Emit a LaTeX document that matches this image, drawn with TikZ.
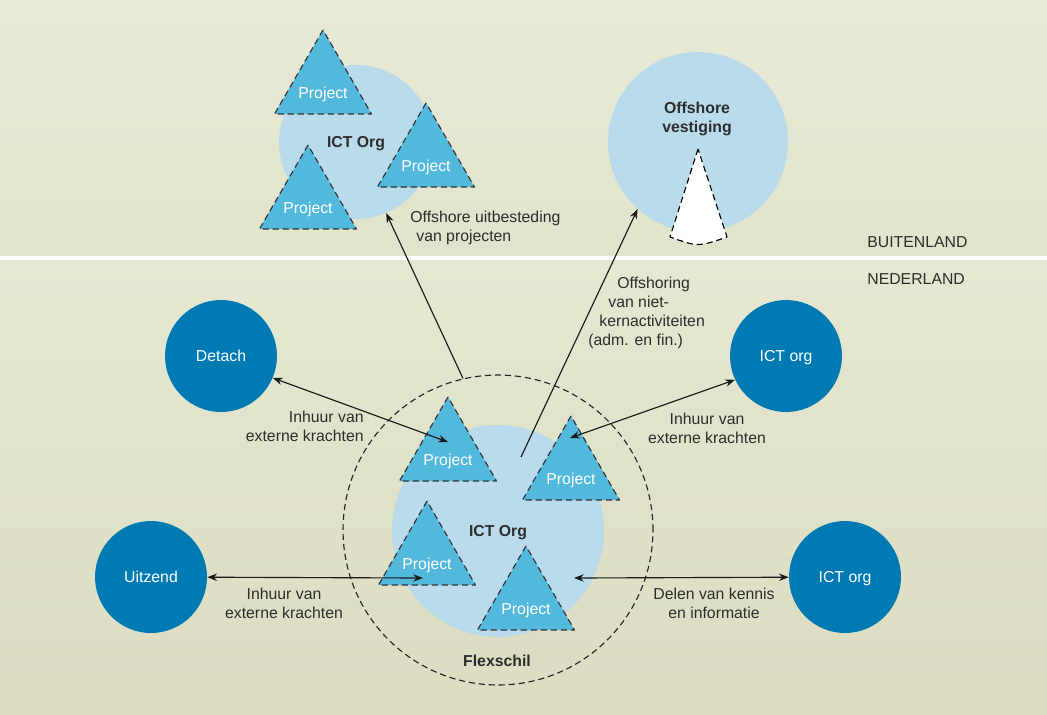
\documentclass[tikz,border=0pt]{standalone}
\usepackage{fontspec}
\setmainfont{Liberation Sans}
\usetikzlibrary{shapes.geometric,arrows.meta}
\definecolor{bgA}{RGB}{232,234,214}
\definecolor{bgB}{RGB}{225,227,204}
\definecolor{bgC}{RGB}{229,231,210}
\definecolor{bgD}{RGB}{219,220,192}
\definecolor{kernblauw}{RGB}{185,219,235}
\definecolor{projblauw}{RGB}{82,185,220}
\definecolor{orgblauw}{RGB}{0,122,178}
\definecolor{tekst}{RGB}{45,45,45}
\tikzset{
	lbl/.style={text=tekst,font=\fontsize{9}{10.8}\selectfont,inner sep=0pt},
	org/.style={circle,fill=orgblauw,text=white,minimum size=2.24cm,inner sep=0pt,text depth=0pt,font=\fontsize{9}{10.8}\selectfont},
	kern/.style={circle,fill=kernblauw,inner sep=0pt,text depth=0pt,text=tekst,font=\fontsize{9}{10.8}\selectfont\bfseries},
	proj/.style={regular polygon,regular polygon sides=3,minimum size=2.24cm,inner sep=0pt,
		fill=projblauw,draw=black!80,line width=0.65pt,dash pattern=on 3.5pt off 2.2pt},
	projtxt/.style={text=white,font=\fontsize{9}{10.8}\selectfont,inner sep=0pt},
	pijl/.style={draw=black!90,line width=0.65pt,-{Stealth[length=5.5pt,width=4.2pt]}},
	dubbel/.style={pijl,{Stealth[length=5.5pt,width=4.2pt]}-{Stealth[length=5.5pt,width=4.2pt]}}
}
\begin{document}
\begin{tikzpicture}[x=0.02cm,y=-0.02cm,line join=round]
	%==achtergrond
	\useasboundingbox (0,0) rectangle (1047,714);
	\shade[top color=bgA,bottom color=bgB] (0,0) rectangle (1047,256);
	\fill[white] (0,256) rectangle (1047,260);
	\shade[top color=bgC,bottom color=bgD] (0,260) rectangle (1047,714);
	\node[lbl,anchor=west] (buiten) at (867,242) {BUITENLAND};
	\node[lbl,anchor=west] (neder) at (867,279) {NEDERLAND};
	%==buitenland
	\node[kern,minimum size=3.08cm] (icta) at (356,142) {ICT Org};
	\node[proj] (pa1) at (323,86) {};
	\node[proj] (pa2) at (426,159) {};
	\node[proj] (pa3) at (308,201) {};
	\foreach \p in {pa1,pa2,pa3}
		\node[projtxt] (\p t) at ([yshift=-0.16cm]\p.center) {Project};
	\node[kern,minimum size=3.6cm] (offs) at (698,142) {};
	\node[lbl,align=center,font=\fontsize{9}{10.8}\selectfont\bfseries] (offst) at (697,119) {Offshore\\vestiging};
	\draw[fill=white,line width=0.65pt,dash pattern=on 3.5pt off 2.2pt]
		(698,149)coordinate(W)--(670,237) .. controls (698,247) .. (727,237)--cycle;
	%==nederland
	\node[kern,minimum size=4.24cm] (ictb) at (498,531) {ICT Org};
	\node[proj] (pb1) at (448,453) {};
	\node[proj] (pb2) at (571,472) {};
	\node[proj] (pb3) at (427,557) {};
	\node[proj] (pb4) at (526,602) {};
	\foreach \p in {pb1,pb2,pb3,pb4}
		\node[projtxt] (\p t) at ([yshift=-0.17cm]\p.center) {Project};
	\node[circle,draw=black!85,line width=0.65pt,dash pattern=on 3.5pt off 2.2pt,minimum size=6.2cm] (flex) at (498,530) {};
	\node[lbl,font=\fontsize{9}{10.8}\selectfont\bfseries] (flext) at (497,661) {Flexschil};
	\node[org] (detach) at (221,356) {Detach};
	\node[org] (ictc) at (786,356) {ICT org};
	\node[org] (uitz) at (151,577) {Uitzend};
	\node[org] (ictd) at (845,577) {ICT org};
	%==pijlen
	\path
	(448,442)coordinate(e1)
	(570,438)coordinate(e2)
	(423,578)coordinate(e3)
	(574,578)coordinate(e4)
	(521,457)coordinate(s2);
	\draw[pijl] (flex.103)--(icta.-67);
	\draw[pijl] (s2)--(offs.228);
	\draw[dubbel] (detach.-23)--(e1);
	\draw[dubbel] (ictc.205)--(e2);
	\draw[dubbel] (uitz)--(e3);
	\draw[dubbel] (ictd)--(e4);
	%==teksten bij pijlen
	\node[lbl,align=left,anchor=west] (l0) at (410,228) {Offshore uitbesteding\\\hspace*{0.12cm}van projecten};
	\node[lbl,align=left,anchor=west] (l5) at (588,313) {\hspace*{0.58cm}Offshoring\\\hspace*{0.4cm}van niet-\\\hspace*{0.22cm}kernactiviteiten\\(adm. en fin.)};
	\node[lbl,align=right,anchor=east] (l1) at (364,426) {Inhuur van\\externe krachten};
	\node[lbl,align=center] (l2) at (707,428) {Inhuur van\\externe krachten};
	\node[lbl,align=center] (l3) at (284,603) {Inhuur van\\externe krachten};
	\node[lbl,align=center] (l4) at (714,603) {Delen van kennis\\en informatie};
\end{tikzpicture}
\end{document}
